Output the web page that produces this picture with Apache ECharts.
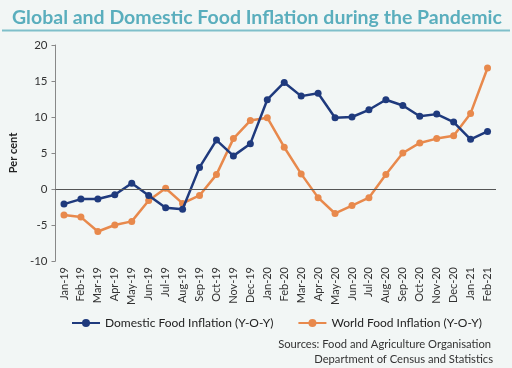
<!DOCTYPE html>
<html><head><meta charset="utf-8">
<script src="https://cdn.jsdelivr.net/npm/echarts@6/dist/echarts.min.js"></script>
<style>html,body{margin:0;padding:0;background:#f2f6f5}#c{width:512px;height:368px}</style>
</head><body><div id="c"></div>
<script>
const months = ['Jan-19','Feb-19','Mar-19','Apr-19','May-19','Jun-19','Jul-19','Aug-19','Sep-19','Oct-19','Nov-19','Dec-19','Jan-20','Feb-20','Mar-20','Apr-20','May-20','Jun-20','Jul-20','Aug-20','Sep-20','Oct-20','Nov-20','Dec-20','Jan-21','Feb-21'];
const domestic = [-2.1,-1.4,-1.4,-0.8,0.8,-0.9,-2.6,-2.8,3.0,6.8,4.6,6.3,12.4,14.8,12.9,13.3,9.9,10.0,11.0,12.4,11.6,10.1,10.4,9.3,6.9,8.0];
const world = [-3.6,-3.9,-5.9,-5.0,-4.5,-1.6,0.1,-2.0,-0.9,2.0,7.0,9.5,9.9,5.8,2.1,-1.2,-3.4,-2.3,-1.2,2.0,5.0,6.4,7.0,7.4,10.5,16.8];
const seriesNames = ['Domestic Food Inflation (Y-O-Y)','World Food Inflation (Y-O-Y)'];
const blue = '#1f3a7d', orange = '#e8894c';
const FONT = 'Lato';
const chart = echarts.init(document.getElementById('c'));
chart.setOption({
  backgroundColor: '#f2f6f5',
  textStyle: {fontFamily: FONT},
  title: {
    text: 'Global and Domestic Food Inflation during the Pandemic',
    left: 7, top: 3,
    textStyle: {color: '#5aaebd', fontSize: 19.5, fontWeight: 'bold', fontFamily: FONT}
  },
  graphic: [{
    type: 'line', shape: {x1: 2, y1: 30.5, x2: 510, y2: 30.5},
    style: {stroke: '#7fbfca', lineWidth: 2}
  },{
    type: 'text', right: 21, top: 339,
    style: {text: 'Sources: Food and Agriculture Organisation', fill: '#333', font: '11.2px Lato', textAlign: 'right'}
  },{
    type: 'text', right: 19, top: 354,
    style: {text: 'Department of Census and Statistics', fill: '#333', font: '11.2px Lato', textAlign: 'right'}
  }],
  legend: {
    top: 312, left: 66, itemWidth: 28, itemHeight: 10, itemGap: 24,
    textStyle: {fontSize: 12, color: '#222', fontFamily: FONT},
    data: seriesNames
  },
  grid: {left: 53, right: 16, top: 45, bottom: 107, containLabel: false},
  xAxis: {
    type: 'category', data: months, boundaryGap: true,
    axisLine: {show: false}, axisTick: {show: false},
    axisLabel: {rotate: 90, fontSize: 11, color: '#333', margin: 6, interval: 0}
  },
  yAxis: {
    type: 'value', min: -10, max: 20, interval: 5,
    name: 'Per cent', nameLocation: 'middle', nameGap: 29,
    nameTextStyle: {fontSize: 11, fontWeight: 'bold', color: '#222'},
    axisLine: {show: true, lineStyle: {color: '#888'}},
    axisTick: {show: true, length: 4, lineStyle: {color: '#888'}},
    axisLabel: {fontSize: 11.5, color: '#333', margin: 8},
    splitLine: {show: false}
  },
  series: [{
    name: seriesNames[0], type: 'line', data: domestic,
    color: blue, symbol: 'circle', symbolSize: 7,
    lineStyle: {width: 2.5, color: blue}, itemStyle: {color: blue},
    markLine: {silent: true, symbol: 'none', label: {show: false},
      lineStyle: {color: '#555', type: 'solid', width: 1},
      data: [{yAxis: 0}]},
    z: 3
  },{
    name: seriesNames[1], type: 'line', data: world,
    color: orange, symbol: 'circle', symbolSize: 7,
    lineStyle: {width: 2.5, color: orange}, itemStyle: {color: orange},
    z: 2
  }],
  animation: false
});
</script></body></html>
